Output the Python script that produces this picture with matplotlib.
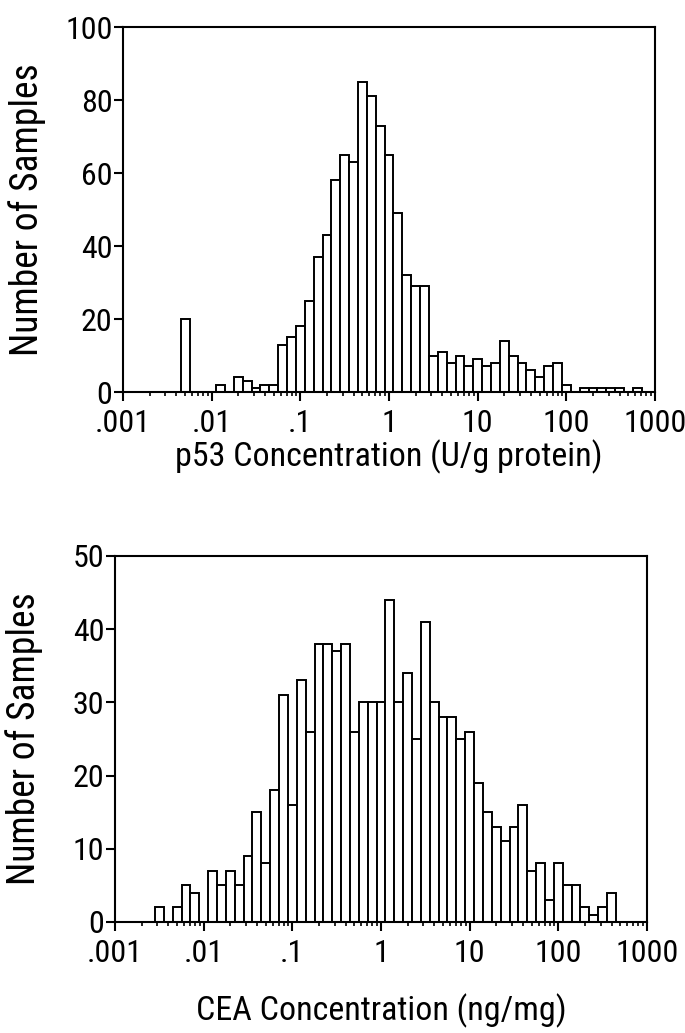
import numpy as np
import matplotlib
matplotlib.use("Agg")
import matplotlib.pyplot as plt
from matplotlib import font_manager
from matplotlib.ticker import FixedLocator, FixedFormatter, LogLocator, NullFormatter

# log10 bin centres (one tenth of a decade wide) and counts
p53_bins = np.round(np.arange(-2.3, 2.85, 0.1), 1)
p53_counts = [20, 0, 0, 0, 2, 0, 4, 3, 1, 2, 2,
              13, 15, 18, 25, 37, 43, 58, 65, 63, 85, 81, 73, 65,
              49, 32, 29, 29, 10, 11, 8, 10, 7, 9, 7, 8, 14, 10, 8, 6, 4, 7, 8,
              2, 0, 1, 1, 1, 1, 1, 0, 1]

cea_bins = np.round(np.arange(-2.5, 2.65, 0.1), 1)
cea_counts = [2, 0, 2, 5, 4, 0, 7, 5, 7, 5, 9, 15, 8, 18, 31, 16, 33, 26,
              38, 38, 37, 38, 26, 30, 30, 30, 44, 30, 34, 25, 41, 30, 28, 28,
              25, 26, 19, 15, 13, 11, 13, 16, 7, 8, 3, 8, 5, 5, 2, 1, 2, 4]

x_ticks = [1e-3, 1e-2, 1e-1, 1, 10, 100, 1000]
x_tick_labels = [".001", ".01", ".1", "1", "10", "100", "1000"]


def pick_font():
    # a condensed face matches the tall, narrow plotter lettering best
    for name in ["Roboto Condensed", "Liberation Sans Narrow",
                 "DejaVu Sans Condensed"]:
        try:
            font_manager.findfont(font_manager.FontProperties(family=name),
                                  fallback_to_default=False)
            return [name, "DejaVu Sans"], 1.0
        except ValueError:
            pass
    return ["Liberation Sans", "DejaVu Sans"], 0.85


FONT, SCALE = pick_font()

plt.rcParams.update({
    "font.family": FONT,
    "axes.linewidth": 1.5,
})

fig = plt.figure(figsize=(6.85, 10.33), dpi=100)
ax_top = fig.add_axes([0.1796, 0.6205, 0.7766, 0.3533])
ax_bot = fig.add_axes([0.1679, 0.1075, 0.7766, 0.3543])


def draw_hist(ax, centres, counts, ymax, ystep, xlabel):
    centres = np.asarray(centres)
    counts = np.asarray(counts, dtype=float)
    keep = counts > 0
    left = 10 ** (centres - 0.05)
    right = 10 ** (centres + 0.05)
    ax.bar(left[keep], counts[keep], width=(right - left)[keep], align="edge",
           facecolor="white", edgecolor="black", linewidth=1.4)
    ax.set_xscale("log")
    ax.set_xlim(1e-3, 1e3)
    ax.set_ylim(0, ymax)
    ax.xaxis.set_major_locator(FixedLocator(x_ticks))
    ax.xaxis.set_major_formatter(FixedFormatter(x_tick_labels))
    ax.xaxis.set_minor_locator(LogLocator(base=10, subs=np.arange(2, 10)))
    ax.xaxis.set_minor_formatter(NullFormatter())
    ax.set_yticks(np.arange(0, ymax + 1, ystep))
    ax.tick_params(which="major", direction="out", length=6.5, width=1.5,
                   labelsize=23 * SCALE)
    ax.tick_params(axis="x", which="major", pad=6)
    ax.tick_params(axis="y", which="major", pad=1)
    ax.tick_params(which="minor", direction="out", length=3.2, width=1.2)
    ax.set_xlabel(xlabel, fontsize=24.5 * SCALE)
    ax.set_ylabel("Number of Samples", fontsize=27 * SCALE)


draw_hist(ax_top, p53_bins, p53_counts, 100, 20,
          "p53 Concentration (U/g protein)")
draw_hist(ax_bot, cea_bins, cea_counts, 50, 10,
          "CEA Concentration (ng/mg)")

ax_top.xaxis.set_label_coords(0.5, -0.13)
ax_bot.xaxis.set_label_coords(0.5, -0.195)
ax_top.yaxis.set_label_coords(-0.145, 0.5)
ax_bot.yaxis.set_label_coords(-0.135, 0.5)

fig.savefig("out.png", dpi=100, facecolor="white")
